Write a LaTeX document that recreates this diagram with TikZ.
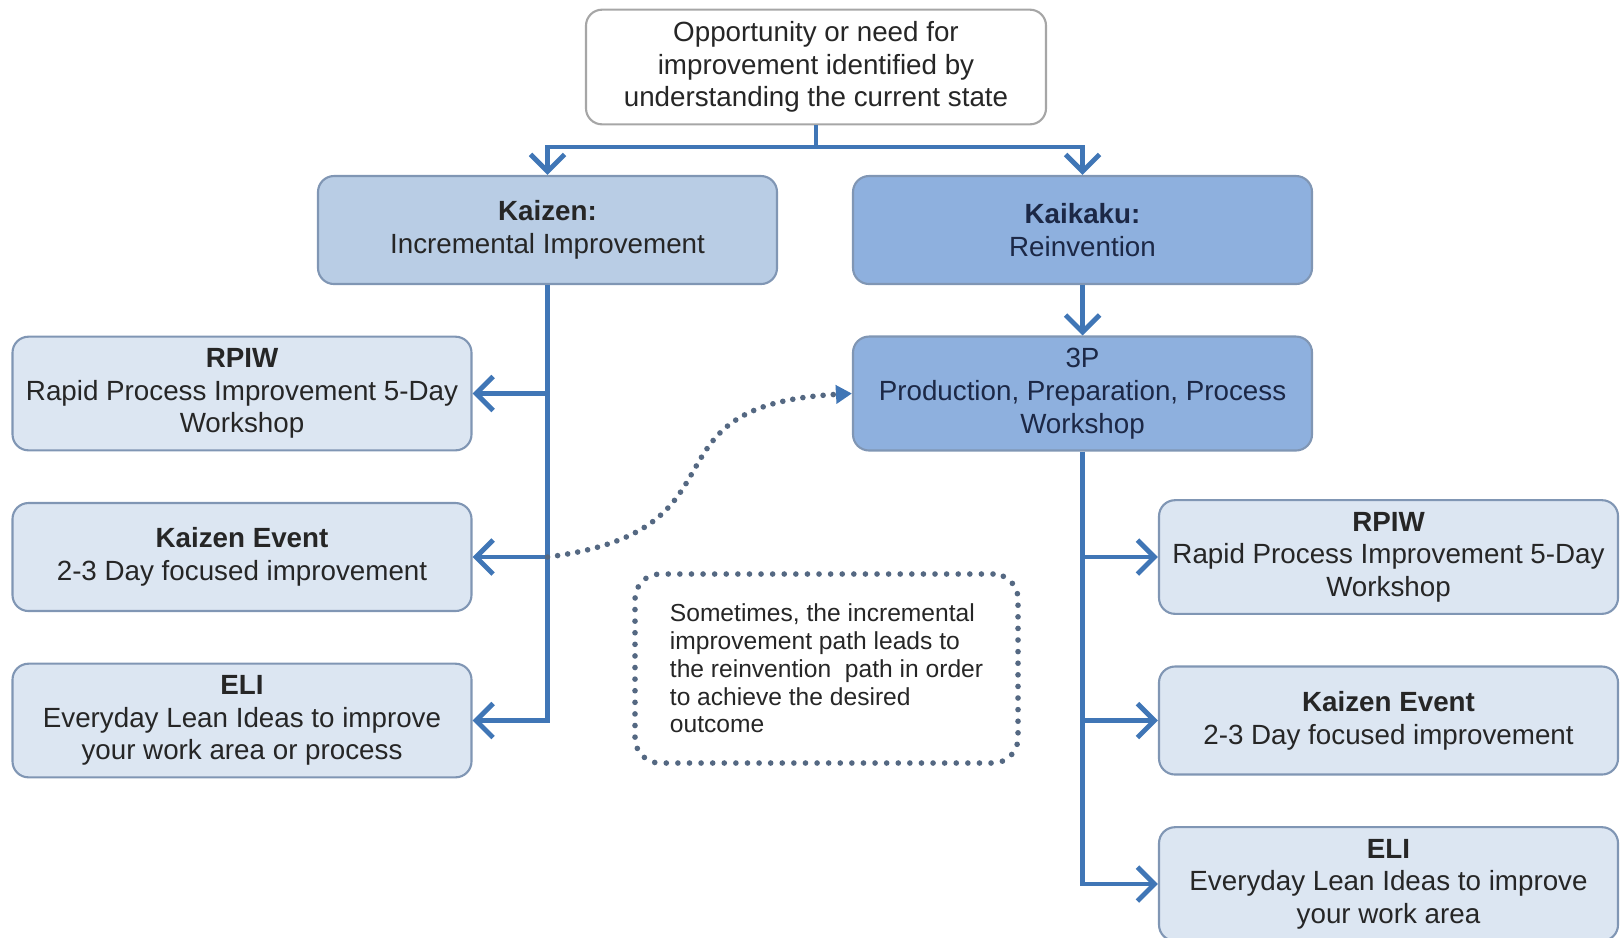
\documentclass[tikz,border=0pt]{standalone}
\usepackage{fontspec}
\setmainfont{Liberation Sans}
\usetikzlibrary{positioning,arrows.meta}
\definecolor{arrowblue}{RGB}{64,118,182}
\definecolor{paleblue}{RGB}{220,230,242}
\definecolor{midblue}{RGB}{185,205,229}
\definecolor{deepblue}{RGB}{142,176,222}
\definecolor{edgegray}{RGB}{128,150,180}
\definecolor{dotgray}{RGB}{84,104,130}
\definecolor{inkgray}{RGB}{38,38,38}
\definecolor{inknavy}{RGB}{28,40,70}
\begin{document}
\begin{tikzpicture}
            [box/.style = {rectangle, rounded corners=1.6mm, draw=edgegray, line width=0.6pt,
                           minimum width=4.59cm, minimum height=1.08cm, align=center,
                           text=inkgray, font=\fontsize{7.9pt}{9.3pt}\selectfont},
             origin/.style = {box, fill=white, draw=gray!70, minimum width=4.6cm, minimum height=1.1cm},
             track/.style = {box, fill=midblue},
             leap/.style = {box, fill=deepblue, text=inknavy},
             child/.style = {box, fill=paleblue},
             remark/.style = {rectangle, rounded corners=2.5mm, draw=dotgray, line width=1.6pt,
                              dash pattern=on 0pt off 3.3pt, line cap=round,
                              minimum width=3.83cm, minimum height=1.89cm,
                              align=left, text=inkgray, font=\fontsize{7pt}{7.9pt}\selectfont},
             wire/.style = {draw=arrowblue, line width=1.4pt},
             link/.style = {wire, -{Straight Barb[length=1.7mm, width=3.4mm]}},
             hint/.style = {draw=dotgray, line width=1.6pt, dash pattern=on 0pt off 2.9pt,
                            line cap=round, -{Triangle[length=1.6mm, width=1.8mm, color=arrowblue, fill=arrowblue]}},
             node distance = 1.635cm]
            \useasboundingbox (0,0) rectangle (16.2,-9.37);
            \node[origin] (top) at (8.16,-0.67) {Opportunity or need for\\improvement identified by\\understanding the current state};
            \node[track] (kaizen) at (5.475,-2.30) {\textbf{Kaizen:}\\Incremental Improvement};
            \node[leap] (kaikaku) [right of=kaizen, node distance=5.35cm] {\textbf{Kaikaku:}\\Reinvention};
            \node[leap] (threeP) [below of=kaikaku] {3P\\Production, Preparation, Process\\Workshop};
            \node[child] (rpiwL) at (2.42,-3.935) {\textbf{RPIW}\\Rapid Process Improvement 5-Day\\Workshop};
            \node[child] (eventL) [below of=rpiwL] {\textbf{Kaizen Event}\\2-3 Day focused improvement};
            \node[child] (eliL) [below of=eventL] {\textbf{ELI}\\Everyday Lean Ideas to improve\\your work area or process};
            \node[child] (rpiwR) [right of=eventL, node distance=11.465cm] {\textbf{RPIW}\\Rapid Process Improvement 5-Day\\Workshop};
            \node[child] (eventR) [below of=rpiwR] {\textbf{Kaizen Event}\\2-3 Day focused improvement};
            \node[child] (eliR) [below of=eventR] {\textbf{ELI}\\Everyday Lean Ideas to improve\\your work area};
            \node[remark] (note) at (8.265,-6.685) {Sometimes, the incremental\\improvement path leads to\\the reinvention\ \ path in order\\to achieve the desired\\outcome};
            % split below the start box
            \coordinate (bar) at (8.16,-1.47);
            \draw[wire] (top.south) -- (bar);
            \draw[link] (bar) -| (kaizen.north);
            \draw[link] (bar) -| (kaikaku.north);
            % incremental path
            \coordinate (forkL1) at (kaizen.south |- rpiwL.east);
            \coordinate (forkL2) at (kaizen.south |- eventL.east);
            \draw[link] (kaizen.south) |- (eliL.east);
            \draw[link] (forkL1) -- (rpiwL.east);
            \draw[link] (forkL2) -- (eventL.east);
            % reinvention path
            \coordinate (forkR1) at (threeP.south |- rpiwR.west);
            \coordinate (forkR2) at (threeP.south |- eventR.west);
            \draw[link] (kaikaku.south) -- (threeP.north);
            \draw[link] (threeP.south) |- (eliR.west);
            \draw[link] (forkR1) -- (rpiwR.west);
            \draw[link] (forkR2) -- (eventR.west);
            % crossing over
            \draw[hint] (forkL2) .. controls +(2.1,0.27) and +(-2.2,-0.12) .. (threeP.west);
        \end{tikzpicture}
\end{document}
